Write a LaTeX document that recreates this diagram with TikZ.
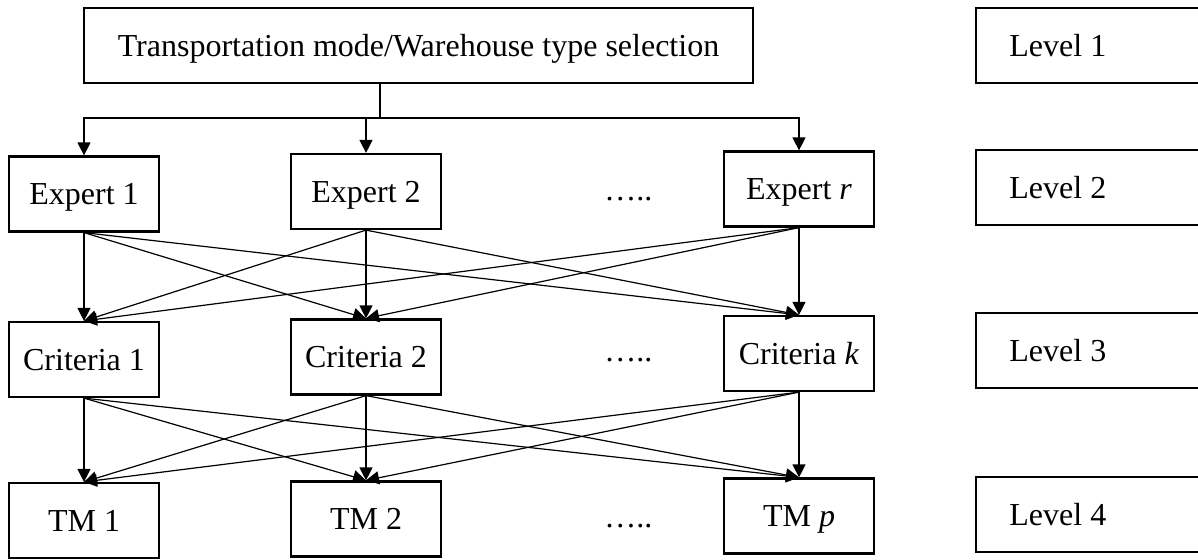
\documentclass[tikz,border=0pt]{standalone}
\usepackage{fontspec}
\setmainfont{Liberation Serif}
\usetikzlibrary{arrows.meta}
\begin{document}
\begin{tikzpicture}[x=0.5pt,y=-0.5pt,
  box/.style={draw=black,line width=1.1pt,inner sep=0pt,minimum width=75pt,minimum height=37.5pt,text height=10.6pt,text depth=0pt,font=\fontsize{16}{19}\selectfont},
  lvl/.style={draw=black,line width=1.1pt,inner sep=0pt,minimum width=114.5pt,minimum height=37.5pt},
  lbl/.style={inner sep=0pt,text height=10.6pt,text depth=0pt,font=\fontsize{16}{19}\selectfont},
  conn/.style={draw=black,line width=0.6pt,-{Triangle[length=6.5pt,width=6.5pt]}},
  plain/.style={draw=black,line width=0.6pt}]
\useasboundingbox (0,0) rectangle (1198,559);
% top
\node[box,minimum width=334.5pt] (top) at (418.5,45.5) {Transportation mode/Warehouse type selection};
% experts
\node[box] (E1) at (84,194) {Expert 1};
\node[box] (E2) at (366,191.5) {Expert 2};
\node[box] (Er) at (799,189) {Expert \textit{r}};
% criteria
\node[box] (C1) at (84,359.5) {Criteria 1};
\node[box] (C2) at (366,357) {Criteria 2};
\node[box] (Ck) at (799,353.5) {Criteria \textit{k}};
% TM
\node[box] (T1) at (84,520.5) {TM 1};
\node[box] (T2) at (366,519) {TM 2};
\node[box] (Tp) at (799,516) {TM \textit{p}};
% dots
\node[lbl,anchor=base west] (d2) at (604,200) {…..};
\node[lbl,anchor=base west] (d3) at (604,361) {…..};
\node[lbl,anchor=base west] (d4) at (604,527) {…..};
% levels
\node[lvl] (L1) at (1090.5,45.5) {};
\node[lvl] (L2) at (1090.5,187.5) {};
\node[lvl] (L3) at (1090.5,350.5) {};
\node[lvl] (L4) at (1090.5,514.5) {};
\node[lbl,anchor=west] (L1t) at (1009,46) {Level 1};
\node[lbl,anchor=west] (L2t) at (1009,188) {Level 2};
\node[lbl,anchor=west] (L3t) at (1009,351) {Level 3};
\node[lbl,anchor=west] (L4t) at (1009,515) {Level 4};
% top connectors
\coordinate (j) at (380,118);
\draw[plain] (top.south -| j) -- (j);
\draw[conn] (j) -| (E1.north);
\draw[conn] (j) -| (E2.north);
\draw[conn] (j) -| (Er.north);
% expert -> criteria
\foreach \s in {E1,E2,Er}{
  \foreach \t in {C1,C2,Ck}{
    \draw[conn] (\s.south) -- (\t.north);
  }
}
% criteria -> TM
\foreach \s in {C1,C2,Ck}{
  \foreach \t in {T1,T2,Tp}{
    \draw[conn] (\s.south) -- (\t.north);
  }
}
\end{tikzpicture}
\end{document}
